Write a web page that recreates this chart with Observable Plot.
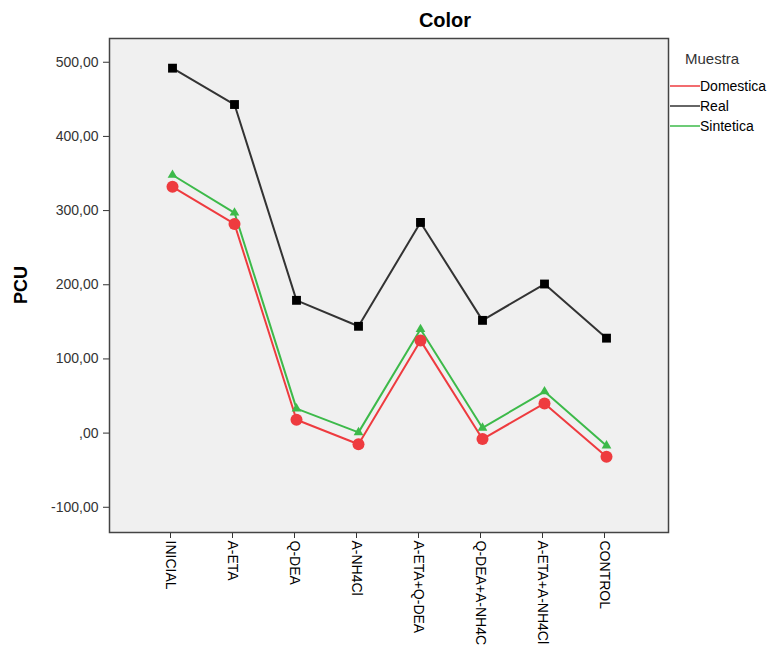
<!DOCTYPE html>
<html>
<head>
<meta charset="utf-8">
<script src="https://cdn.jsdelivr.net/npm/d3@7"></script>
<script src="https://cdn.jsdelivr.net/npm/@observablehq/plot@0.6"></script>
<style>
body { margin: 0; background: #fff; }
#chart svg { font-family: "Liberation Sans", Arial, sans-serif; }
</style>
</head>
<body>
<div id="chart"></div>
<script>
const categories = ["INICIAL", "A-ETA", "Q-DEA", "A-NH4Cl", "A-ETA+Q-DEA", "Q-DEA+A-NH4C", "A-ETA+A-NH4Cl", "CONTROL"];
const seriesNames = ["Domestica", "Real", "Sintetica"];
const domestica = [332, 282, 18, -15, 125, -8, 40, -32];
const real = [492, 443, 179, 144, 284, 152, 201, 128];
const sintetica = [348, 297, 33, 1, 140, 7, 56, -17];
const yTicks = [-100, 0, 100, 200, 300, 400, 500];
const colors = ["#ee3b3f", "#333333", "#3dba4a"];
const symbols = ["circle", "square", "triangle"];
const title = "Color";
const yLabel = "PCU";
const legendTitle = "Muestra";

const valuesBySeries = [domestica, real, sintetica];
const data = [];
seriesNames.forEach((s, i) => categories.forEach((c, j) => data.push({ serie: s, cat: c, v: valuesBySeries[i][j] })));

const fmt = d => d === 0 ? ",00" : d.toFixed(2).replace(".", ",");

const W = 773, H = 655;
const mL = 109, mT = 38, mR = 105, mB = 123;

const plot = Plot.plot({
  width: W, height: H,
  marginLeft: mL, marginTop: mT, marginRight: mR, marginBottom: mB,
  style: { fontFamily: "Liberation Sans, Arial, sans-serif", fontSize: "13px", color: "#333", background: "#fff" },
  x: { type: "point", domain: categories, padding: 0.97, label: null },
  y: { domain: [-134, 532], label: null },
  color: { domain: seriesNames, range: colors },
  symbol: { domain: seriesNames, range: symbols },
  marks: [
    Plot.frame({ fill: "#f0f0f0", stroke: null }),
    Plot.axisY({ ticks: yTicks, tickFormat: fmt, tickSize: 6, tickPadding: 5, fontSize: 14, stroke: "#333", fill: "#333", label: null }),
    Plot.axisX({ tickRotate: 90, tickSize: 6, tickPadding: 2, fontSize: 14, stroke: "#333", fill: "#000", label: null, dx: -2 }),
    Plot.line(data, { x: "cat", y: "v", z: "serie", stroke: "serie", strokeWidth: 2 }),
    Plot.dot(data.filter(d => d.serie === "Domestica"), { x: "cat", y: "v", symbol: "serie", fill: "serie", r: 6 }),
    Plot.dot(data.filter(d => d.serie === "Real"), { x: "cat", y: "v", symbol: "serie", fill: "#000", r: 5 }),
    Plot.dot(data.filter(d => d.serie === "Sintetica"), { x: "cat", y: "v", symbol: "serie", fill: "serie", r: 3.6 }),
    Plot.frame({ stroke: "#444", strokeWidth: 1.5 })
  ]
});
document.getElementById("chart").appendChild(plot);

const svg = d3.select(plot);
svg.append("text").attr("x", 445).attr("y", 27).attr("text-anchor", "middle")
  .attr("font-size", 20).attr("font-weight", "bold").attr("fill", "#000").text(title);
svg.append("text").attr("transform", "translate(27," + (mT + (H - mT - mB) / 2) + ") rotate(-90)")
  .attr("text-anchor", "middle").attr("font-size", 18).attr("font-weight", "bold").attr("fill", "#000").text(yLabel);

const lg = svg.append("g").attr("transform", "translate(" + (W - mR) + ",0)").attr("text-anchor", "start");
lg.append("text").attr("x", 17).attr("y", 64).attr("font-size", 15).attr("fill", "#333").attr("text-anchor", "start").text(legendTitle);
seriesNames.forEach((s, i) => {
  const y = 86 + i * 20;
  lg.append("line").attr("x1", 2).attr("x2", 32).attr("y1", y).attr("y2", y).attr("stroke", colors[i]).attr("stroke-width", 1.5);
  lg.append("text").attr("x", 32).attr("y", y + 5).attr("font-size", 14).attr("fill", "#000").attr("text-anchor", "start").text(s);
});
</script>
</body>
</html>
